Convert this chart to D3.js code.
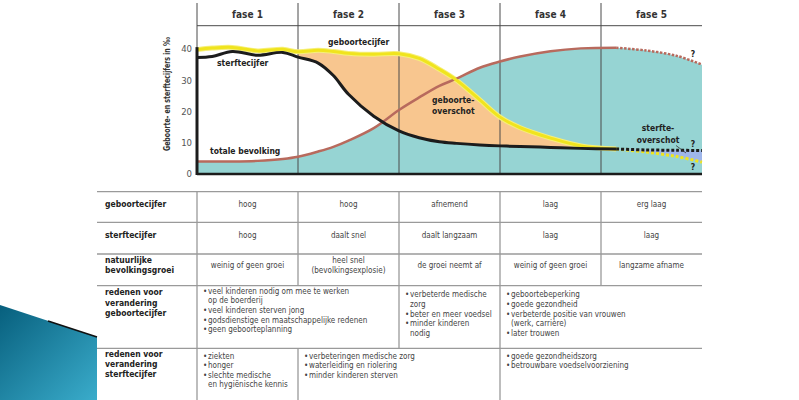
<!DOCTYPE html>
<html>
<head>
<meta charset="utf-8">
<script src="https://cdn.jsdelivr.net/npm/d3@7"></script>
<style>
  body { margin: 0; background: #fff; }
  text { font-family: "DejaVu Sans Condensed", "Liberation Sans Narrow", "Roboto", sans-serif; }
</style>
</head>
<body>
<div id="chart"></div>
<script>
// phase headers
var phases = ["fase 1", "fase 2", "fase 3", "fase 4", "fase 5"];

// position on the time axis, in phase units (0 = start of fase 1, 5 = end of fase 5)
var tPos       = [0, 0.15, 0.35, 0.6, 0.85, 1.0, 1.2, 1.35, 1.5, 1.75, 2.0, 2.2, 2.4, 2.57, 2.8, 3.0, 3.2, 3.5, 3.8, 4.15, 4.45, 4.75, 5.0];
var birthRate  = [39.8, 40.3, 40.5, 39.4, 39.9, 39.1, 39.6, 39.2, 38.6, 38.3, 38.5, 37.0, 33.5, 30.0, 23.7, 18.2, 14.8, 11.5, 9.0, 8.0, 7.0, 5.6, 3.8];
var deathRate  = [37.3, 37.6, 39.2, 38.0, 38.9, 37.4, 35.5, 31.5, 25.5, 18.5, 13.8, 11.6, 10.3, 9.8, 9.3, 9.0, 8.8, 8.5, 8.2, 8.0, 7.7, 7.6, 7.5];
var population = [4.0, 4.0, 4.0, 4.2, 4.8, 5.5, 7.2, 8.7, 10.7, 14.7, 20.5, 24.5, 28.2, 30.5, 34.0, 36.0, 37.6, 39.3, 40.2, 40.4, 39.5, 37.8, 35.0];
var solidEnd = 19;   // from this point on the lines are dotted (onzeker)
var surplusStart = 5; // geboorteoverschot starts at fase 2

var yTicks = [0, 10, 20, 30, 40];

// table
var rowLabels = [
  ["geboortecijfer"],
  ["sterftecijfer"],
  ["natuurlijke", "bevolkingsgroei"],
  ["redenen voor", "verandering", "geboortecijfer"],
  ["redenen voor", "verandering", "sterftecijfer"]
];
var birthText  = [["hoog"], ["hoog"], ["afnemend"], ["laag"], ["erg laag"]];
var deathText  = [["hoog"], ["daalt snel"], ["daalt langzaam"], ["laag"], ["laag"]];
var growthText = [["weinig of geen groei"], ["heel snel", "(bevolkingsexplosie)"], ["de groei neemt af"], ["weinig of geen groei"], ["langzame afname"]];

var birthReasons = [
  {span: [0, 2], items: [["veel kinderen nodig om mee te werken", "op de boerderij"], ["veel kinderen sterven jong"], ["godsdienstige en maatschappelijke redenen"], ["geen geboorteplanning"]]},
  {span: [2, 3], items: [["verbeterde medische", "zorg"], ["beter en meer voedsel"], ["minder kinderen", "nodig"]]},
  {span: [3, 5], items: [["geboortebeperking"], ["goede gezondheid"], ["verbeterde positie van vrouwen", "(werk, carrière)"], ["later trouwen"]]}
];
var deathReasons = [
  {span: [0, 1], items: [["ziekten"], ["honger"], ["slechte medische", "en hygiënische kennis"]]},
  {span: [1, 3], items: [["verbeteringen medische zorg"], ["waterleiding en riolering"], ["minder kinderen sterven"]]},
  {span: [3, 5], items: [["goede gezondheidszorg"], ["betrouwbare voedselvoorziening"]]}
];

var width = 799, height = 400;

var svg = d3.select("#chart").append("svg")
    .attr("width", width)
    .attr("height", height);

var x = d3.scaleLinear().domain([0, 5]).range([197, 702]);
var y = d3.scaleLinear().domain([0, 40]).range([174, 49]);

var teal = "#96d4d3", orange = "#f8c68f", lightBlue = "#9fb6ea",
    yellow = "#f0e41e", brown = "#b86a5d", black = "#1c1c1c";

// ribbon decoration bottom-left
var grad = svg.append("defs").append("linearGradient")
    .attr("id", "ribbon")
    .attr("x1", "0%").attr("y1", "0%")
    .attr("x2", "100%").attr("y2", "100%");
grad.append("stop").attr("offset", "0%").attr("stop-color", "#075f7d");
grad.append("stop").attr("offset", "100%").attr("stop-color", "#3aaccb");

svg.append("path")
    .attr("d", "M0,305 L97,337 L97,400 L0,400 Z")
    .attr("fill", "url(#ribbon)");
svg.append("line")
    .attr("x1", 48).attr("y1", 321).attr("x2", 97).attr("y2", 337)
    .attr("stroke", "#111").attr("stroke-width", 1.8);

// ----- chart -----
var pts = tPos.map(function(t, i) {
  return {t: t, birth: birthRate[i], death: deathRate[i], pop: population[i]};
});
var curve = d3.curveCatmullRom.alpha(0.5);

svg.append("path")
    .datum(pts)
    .attr("fill", teal)
    .attr("d", d3.area().curve(curve)
      .x(function(d) { return x(d.t); })
      .y0(y(0))
      .y1(function(d) { return y(d.pop); }));

svg.append("path")
    .datum(pts.slice(surplusStart, solidEnd + 1))
    .attr("fill", orange)
    .attr("d", d3.area().curve(curve)
      .x(function(d) { return x(d.t); })
      .y0(function(d) { return y(d.death); })
      .y1(function(d) { return y(Math.max(d.birth, d.death)); }));

svg.append("path")
    .datum(pts.slice(solidEnd))
    .attr("fill", lightBlue)
    .attr("d", d3.area().curve(curve)
      .x(function(d) { return x(d.t); })
      .y0(function(d) { return y(d.birth); })
      .y1(function(d) { return y(Math.max(d.birth, d.death)); }));

// phase grid
svg.selectAll("line.phase")
  .data(d3.range(0, 5))
  .enter().append("line")
    .attr("class", "phase")
    .attr("x1", function(d) { return x(d); })
    .attr("x2", function(d) { return x(d); })
    .attr("y1", 3).attr("y2", y(0))
    .attr("stroke", "#4a4a4a").attr("stroke-width", 1);

svg.append("line")
    .attr("x1", x(0)).attr("x2", x(5))
    .attr("y1", 25.7).attr("y2", 25.7)
    .attr("stroke", "#4a4a4a").attr("stroke-width", 1);

svg.selectAll("text.phase")
  .data(phases)
  .enter().append("text")
    .attr("class", "phase")
    .attr("x", function(d, i) { return x(i + 0.5); })
    .attr("y", 18)
    .attr("text-anchor", "middle")
    .attr("font-size", 10)
    .attr("font-weight", "bold")
    .attr("fill", "#333")
    .text(function(d) { return d; });

function drawLine(key, color, w, dash) {
  var line = d3.line().curve(curve)
      .x(function(d) { return x(d.t); })
      .y(function(d) { return y(d[key]); });
  svg.append("path")
      .datum(pts.slice(0, solidEnd + 1))
      .attr("fill", "none")
      .attr("stroke", color)
      .attr("stroke-width", w)
      .attr("d", line);
  svg.append("path")
      .datum(pts.slice(solidEnd))
      .attr("fill", "none")
      .attr("stroke", color)
      .attr("stroke-width", w)
      .attr("stroke-dasharray", dash)
      .attr("d", line);
}

// soft glow under the birth rate
svg.append("path")
    .datum(pts.slice(0, solidEnd + 1))
    .attr("fill", "none")
    .attr("stroke", "#f6ef7a")
    .attr("stroke-width", 5)
    .attr("d", d3.line().curve(curve)
      .x(function(d) { return x(d.t); })
      .y(function(d) { return y(d.birth); }));

drawLine("pop", brown, 2.5, "2.5,1.5");
drawLine("birth", yellow, 3, "3,2");
drawLine("death", black, 3, "3,2");

// axes
svg.append("line")
    .attr("x1", x(0)).attr("x2", x(5))
    .attr("y1", y(0)).attr("y2", y(0))
    .attr("stroke", black).attr("stroke-width", 2.5);
svg.append("line")
    .attr("x1", x(0)).attr("x2", x(0))
    .attr("y1", y(40.6)).attr("y2", y(0) + 1)
    .attr("stroke", black).attr("stroke-width", 3);

svg.selectAll("text.ytick")
  .data(yTicks)
  .enter().append("text")
    .attr("class", "ytick")
    .attr("x", 192)
    .attr("y", function(d) { return y(d); })
    .attr("dy", "0.35em")
    .attr("text-anchor", "end")
    .attr("font-size", 9.5)
    .attr("fill", "#555")
    .text(function(d) { return d; });

svg.append("text")
    .attr("transform", "translate(170," + 94 + ") rotate(-90)")
    .attr("text-anchor", "middle")
    .attr("font-size", 8.5)
    .attr("font-weight", "bold")
    .attr("fill", "#333")
    .attr("textLength", 114)
    .attr("lengthAdjust", "spacingAndGlyphs")
    .text("Geboorte- en sterftecijfers in ‰");

// annotations
var notes = [
  {x: 328, y: 45, lines: ["geboortecijfer"], anchor: "start"},
  {x: 217, y: 66, lines: ["sterftecijfer"], anchor: "start"},
  {x: 210, y: 154, lines: ["totale bevolking"], anchor: "start"},
  {x: 432, y: 102.5, lines: ["geboorte-", "overschot"], anchor: "start"},
  {x: 658, y: 131, lines: ["sterfte-", "overschot"], anchor: "middle"},
  {x: 693, y: 57, lines: ["?"], anchor: "middle"},
  {x: 693, y: 147, lines: ["?"], anchor: "middle"},
  {x: 693, y: 170, lines: ["?"], anchor: "middle"}
];
notes.forEach(function(n) {
  var t = svg.append("text")
      .attr("x", n.x).attr("y", n.y)
      .attr("text-anchor", n.anchor)
      .attr("font-size", 8.5)
      .attr("font-weight", "bold")
      .attr("fill", "#222");
  n.lines.forEach(function(l, i) {
    t.append("tspan").attr("x", n.x).attr("dy", i ? 11.5 : 0).text(l);
  });
});
svg.append("line")
    .attr("x1", 676).attr("y1", 145.5).attr("x2", 686).attr("y2", 153)
    .attr("stroke", "#333").attr("stroke-width", 0.8);

// ----- table -----
var rowY = [191.7, 222.3, 254, 285.7, 348.3, 400];
var gridColor = "#9a9a9a";

svg.selectAll("line.hrow")
  .data(rowY.slice(0, 5))
  .enter().append("line")
    .attr("class", "hrow")
    .attr("x1", 97).attr("x2", x(5))
    .attr("y1", function(d) { return d; })
    .attr("y2", function(d) { return d; })
    .attr("stroke", gridColor).attr("stroke-width", 1.3);

// vertical separators per row
var vSeps = [[0, 1, 2, 3, 4], [0, 1, 2, 3, 4], [0, 1, 2, 3, 4], [0, 2, 3], [0, 1, 3]];
vSeps.forEach(function(seps, r) {
  seps.forEach(function(s) {
    svg.append("line")
        .attr("x1", x(s)).attr("x2", x(s))
        .attr("y1", rowY[r]).attr("y2", rowY[r + 1])
        .attr("stroke", gridColor).attr("stroke-width", 1.3);
  });
});

function multiline(xp, yc, lines, step, attrs) {
  var t = svg.append("text")
      .attr("x", xp)
      .attr("y", yc - (lines.length - 1) * step / 2)
      .attr("dy", "0.35em")
      .attr("font-size", attrs.size)
      .attr("font-weight", attrs.weight)
      .attr("fill", attrs.fill)
      .attr("text-anchor", attrs.anchor);
  lines.forEach(function(l, i) {
    t.append("tspan").attr("x", xp).attr("dy", i ? step : 0).text(l);
  });
}

var labelY = [206.5, 237.5, 268, 305.5, 367];
rowLabels.forEach(function(lines, r) {
  multiline(105, labelY[r], lines, 10.3, {size: 8.5, weight: "bold", fill: "#222", anchor: "start"});
});

[birthText, deathText, growthText].forEach(function(row, r) {
  row.forEach(function(lines, c) {
    multiline(x(c + 0.5), labelY[r], lines, 10, {size: 8, weight: "normal", fill: "#444", anchor: "middle"});
  });
});

function bullets(cells, top, step) {
  cells.forEach(function(cell, ci) {
    var x0 = x(cell.span[0]) + 6;
    var line = 0;
    var first = typeof top === "number" ? top : top[ci];
    cell.items.forEach(function(item) {
      item.forEach(function(txt, k) {
        var yy = first + line * step;
        if (k === 0) {
          svg.append("text").attr("x", x0).attr("y", yy).attr("dy", "0.35em")
              .attr("font-size", 8).attr("fill", "#444").text("•");
        }
        svg.append("text").attr("x", x0 + 5).attr("y", yy).attr("dy", "0.35em")
            .attr("font-size", 8).attr("fill", "#444").text(txt);
        line++;
      });
    });
  });
}
bullets(birthReasons, [291, 294.5, 294.5], 9.6);
bullets(deathReasons, 356.3, 9.2);
</script>
</body>
</html>
